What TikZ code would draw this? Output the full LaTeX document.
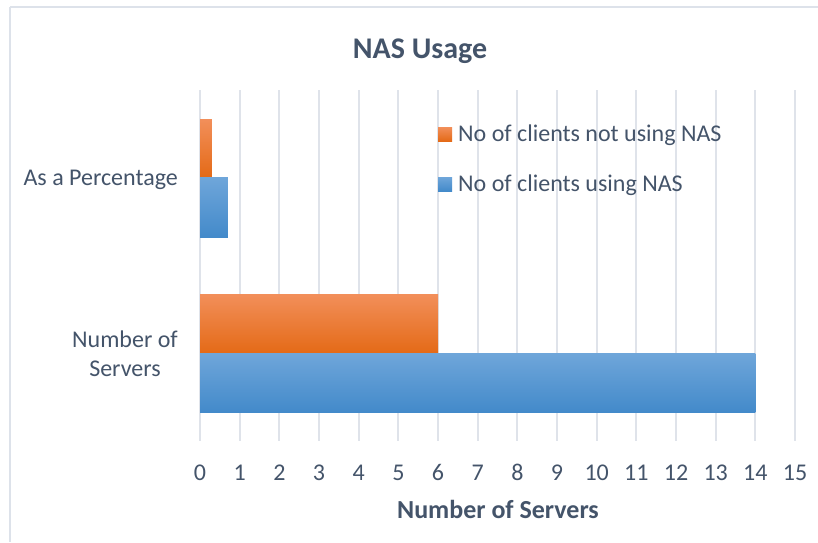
\documentclass[tikz,border=0pt]{standalone}
\usepackage{fontspec}
\setmainfont{Carlito}
\definecolor{txt}{HTML}{44546A}
\definecolor{gridc}{HTML}{DFE3EA}
\definecolor{borderc}{HTML}{DDE2EA}
\definecolor{orTop}{HTML}{F28F5A}
\definecolor{orMid}{HTML}{F6822E}
\definecolor{orBot}{HTML}{E46A17}
\definecolor{blTop}{HTML}{6FA6DA}
\definecolor{blMid}{HTML}{5A9BDC}
\definecolor{blBot}{HTML}{438ACA}
\begin{document}
\begin{tikzpicture}[x=1pt,y=-1pt,
  gridline/.style={draw=gridc,line width=1.8pt},
  framel/.style={draw=borderc,line width=1.5pt},
  orbar/.style={top color=orTop,middle color=orMid,bottom color=orBot},
  blbar/.style={top color=blTop,middle color=blMid,bottom color=blBot},
  lab/.style={text=txt,inner sep=0pt,font=\fontsize{24}{29}\selectfont},
  ticklab/.style={lab,anchor=base},
  titlelab/.style={text=txt,inner sep=0pt,font=\bfseries\fontsize{30}{36}\selectfont,anchor=base},
  axtitle/.style={text=txt,inner sep=0pt,font=\bfseries\fontsize{26}{31}\selectfont,anchor=base}]
\useasboundingbox (0,0) rectangle (818,542);
\fill[white] (0,0) rectangle (818,542);
\draw[framel] (10,7) -- (818,7);
\draw[framel] (10,7) -- (10,542);
\def\u{39.67}
% gridlines and tick labels
\foreach \i in {0,...,15}{
  \draw[gridline] ({200+\u*\i},90) -- ({200+\u*\i},441);
  \node[ticklab] (t\i) at ({200+\u*\i},480) {\i};
}
% bars
\shade[orbar] (200,119) rectangle ({200+0.3*\u},177);
\shade[blbar] (200,177) rectangle ({200+0.7*\u},237);
\shade[orbar] (200,294) rectangle ({200+6*\u},353);
\shade[blbar] (200,353) rectangle ({200+14*\u},412);
% title
\node[titlelab] (title) at (420,58) {NAS Usage};
% category labels
\node[lab,anchor=base east] (catpct) at (178,185) {As a Percentage};
\node[lab,anchor=east,align=center] (catsrv) at (178,354) {Number of\\Servers};
% axis title
\node[axtitle] (xtitle) at (498,518) {Number of Servers};
% legend
\shade[orbar] (438,127) rectangle (452,141);
\node[lab,anchor=base west] (leg1) at (458,141) {No of clients not using NAS};
\shade[blbar] (438,177) rectangle (452,191);
\node[lab,anchor=base west] (leg2) at (458,191) {No of clients using NAS};
\end{tikzpicture}
\end{document}
